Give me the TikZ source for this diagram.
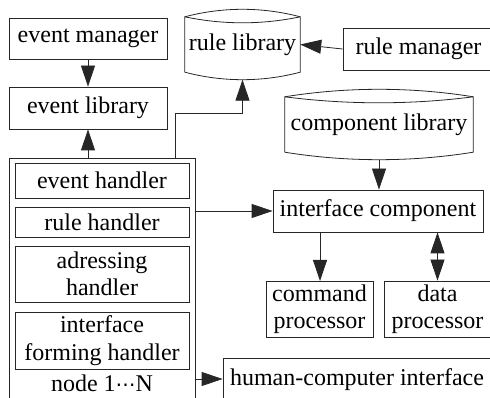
\documentclass[tikz,border=0pt]{standalone}
\usepackage{fontspec}
\setmainfont{Liberation Serif}
\newfontfamily\djfont{DejaVu Sans}
\usetikzlibrary{arrows.meta,calc}
\begin{document}
\begin{tikzpicture}[x=1pt,y=-1pt,
  every node/.style={font=\fontsize{24}{27.5}\selectfont},
  ln/.style={draw=black!85,line width=0.8pt},
  box/.style={ln,rectangle,inner sep=0pt,align=center,text=black},
  cyl/.style={rectangle,inner sep=0pt,align=center},
  arr/.style={ln,-{Triangle[length=21pt,width=14pt]}},
  darr/.style={ln,{Triangle[length=21pt,width=14pt]}-{Triangle[length=21pt,width=14pt]}}]
\useasboundingbox (0,0) rectangle (490,398);
\clip (0,0) rectangle (490,398);
% left column
\node[box,minimum width=158pt,minimum height=41pt] (em) at (88,38.5) {event manager};
\node[box,minimum width=158pt,minimum height=42pt] (el) at (88,108) {event library};
\node[box,minimum width=186pt,minimum height=262pt] (outer) at (102,289) {};
\node[box,minimum width=174pt,minimum height=35pt] (eh) at (102,180.5) {event handler};
\node[box,minimum width=174pt,minimum height=30pt] (rh) at (102,222) {rule handler};
\node[box,minimum width=174pt,minimum height=56pt] (ah) at (102,274) {adressing\\handler};
\node[box,minimum width=174pt,minimum height=57pt] (ifh) at (102,340.5) {interface\\forming handler};
\node[cyl] (nl) at (102,383) {node 1{\djfont\fontsize{20}{24}\selectfont ⋯}N};
% rule library cylinder
\node[cyl,minimum width=115pt,minimum height=55pt] (rl) at (242.5,44.5) {rule library};
\draw[ln] (rl.south west) -- (rl.north west)
  .. controls +(38,-10) and +(-38,-10) .. (rl.north east) -- (rl.south east)
  .. controls +(-38,10) and +(38,10) .. (rl.south west);
\draw[ln] (rl.north west) .. controls +(38,8) and +(-38,8) .. (rl.north east);
\coordinate (rlb) at ($(rl.south)+(0,7.5)$);
% component library cylinder
\node[cyl,minimum width=188pt,minimum height=55pt] (cl) at (379,124.5) {component library};
\draw[ln] (cl.south west) -- (cl.north west)
  .. controls +(62,-10) and +(-62,-10) .. (cl.north east) -- (cl.south east)
  .. controls +(-62,10) and +(62,10) .. (cl.south west);
\draw[ln] (cl.north west) .. controls +(62,8) and +(-62,8) .. (cl.north east);
\coordinate (clb) at ($(cl.south)+(0,7.5)$);
% right side
\node[box,minimum width=151pt,minimum height=42pt] (rm) at (418.5,49) {rule manager};
\node[box,minimum width=210pt,minimum height=42pt] (ic) at (378,211) {interface component};
\node[box,minimum width=107pt,minimum height=56pt] (cp) at (319.5,309) {command\\processor};
\node[box,minimum width=107pt,minimum height=56pt] (dp) at (437.5,309) {data\\processor};
\node[box,minimum width=268pt,minimum height=44pt] (hci) at (357,380) {human-computer interface};
\coordinate (rs) at (175,158);
\coordinate (cpt) at (320,281);
% connectors
\draw[arr] (em) -- (el);
\draw[arr] (el.south |- outer.north) -- (el.south);
\draw[arr] (rs) -- ++(0,-45) -| (rlb);
\draw[arr] (rm.west) -- (rl.east);
\draw[arr] (clb) -- (clb |- ic.north);
\draw[arr] (outer.east |- ic.west) -- (ic.west);
\draw[arr] (cpt |- ic.south) -- (cpt);
\draw[darr] (dp.north |- ic.south) -- (dp.north);
\draw[arr] (outer.east |- 0,379) -- (hci.west |- 0,379);
\end{tikzpicture}
\end{document}
